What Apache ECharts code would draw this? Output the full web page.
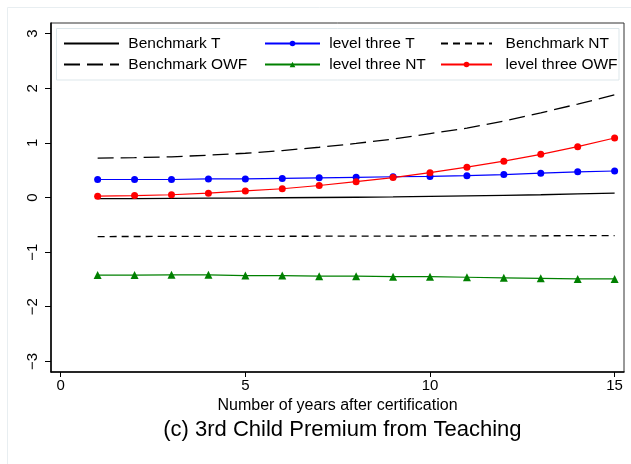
<!DOCTYPE html>
<html>
<head>
<meta charset="utf-8">
<script src="https://cdn.jsdelivr.net/npm/echarts@6/dist/echarts.min.js"></script>
<style>
  html, body { margin: 0; padding: 0; background: #ffffff; }
  #chart { width: 631px; height: 464px; }
</style>
</head>
<body>
<div id="chart"></div>
<script>
// ---- data ----
const years = [1, 2, 3, 4, 5, 6, 7, 8, 9, 10, 11, 12, 13, 14, 15];
const benchmarkT   = [-0.02, -0.02, -0.015, -0.01, -0.01, -0.005, 0, 0.005, 0.01, 0.02, 0.03, 0.04, 0.05, 0.065, 0.08];
const levelThreeT  = [0.33, 0.33, 0.33, 0.34, 0.34, 0.35, 0.36, 0.37, 0.38, 0.385, 0.40, 0.42, 0.445, 0.47, 0.485];
const benchmarkNT  = [-0.715, -0.714, -0.713, -0.712, -0.711, -0.71, -0.709, -0.708, -0.707, -0.705, -0.704, -0.702, -0.701, -0.699, -0.697];
const benchmarkOWF = [0.72, 0.73, 0.745, 0.775, 0.81, 0.86, 0.92, 0.99, 1.07, 1.17, 1.27, 1.40, 1.55, 1.71, 1.88];
const levelThreeNT = [-1.42, -1.42, -1.415, -1.415, -1.43, -1.43, -1.44, -1.44, -1.45, -1.45, -1.46, -1.47, -1.48, -1.49, -1.49];
const levelThreeOWF = [0.025, 0.035, 0.05, 0.08, 0.12, 0.16, 0.22, 0.29, 0.365, 0.455, 0.555, 0.665, 0.79, 0.93, 1.09];

const xTicks = [0, 5, 10, 15];
const yTicks = [-3, -2, -1, 0, 1, 2, 3];
const seriesNames = ['Benchmark T', 'level three T', 'Benchmark NT', 'Benchmark OWF', 'level three NT', 'level three OWF'];
const xAxisTitle = 'Number of years after certification';
const chartTitle = '(c) 3rd Child Premium from Teaching';

// ---- chart ----
const FONT = '"Liberation Sans", Arial, Helvetica, sans-serif';
const pair = arr => years.map((x, i) => [x, arr[i]]);

const chart = echarts.init(document.getElementById('chart'), null, { renderer: 'canvas' });

function legendAt(name, left, top, itemWidth, pad, noMarker) {
  const lg = {
    data: [name], left: left, top: top, orient: 'horizontal',
    itemWidth: itemWidth, itemHeight: 7, padding: 0, selectedMode: false,
    formatter: n => pad + n,
    textStyle: { fontSize: 15.5, fontFamily: FONT, color: '#000', lineHeight: 18 }
  };
  if (noMarker) lg.itemStyle = { opacity: 0, color: 'rgba(0,0,0,0)', borderWidth: 0 };
  return lg;
}

const option = {
  animation: false,
  backgroundColor: '#ffffff',
  title: {
    text: chartTitle, left: 337.4, top: 414, textAlign: 'center',
    textStyle: { fontSize: 22, fontWeight: 'normal', fontFamily: FONT, color: '#000' }
  },
  graphic: [
    { type: 'rect', shape: { x: 7.5, y: 7.5, width: 640, height: 470 }, style: { fill: 'none', stroke: '#e8eef1', lineWidth: 1 }, silent: true, z: -10 },
    { type: 'rect', shape: { x: 56.5, y: 28.5, width: 562.5, height: 51.5 }, style: { fill: 'none', stroke: '#dde7eb', lineWidth: 1 }, silent: true, z: -5 }
  ],
  legend: [
    legendAt(seriesNames[0], 63, 34.5, 55, ' ', true),
    legendAt(seriesNames[1], 264, 34.5, 55, ' ', false),
    legendAt(seriesNames[2], 440, 34.5, 51, '  ', true),
    legendAt(seriesNames[3], 63, 55.5, 55, ' ', true),
    legendAt(seriesNames[4], 264, 55.5, 55, ' ', false),
    legendAt(seriesNames[5], 440, 55.5, 51, '  ', false)
  ],
  grid: { left: 51, top: 23, width: 573, height: 349, show: true, borderColor: '#333', borderWidth: 1, containLabel: false },
  xAxis: {
    type: 'value', min: -0.263, max: 15.254,
    name: xAxisTitle, nameLocation: 'middle', nameGap: 26,
    nameTextStyle: { fontSize: 16, fontFamily: FONT, color: '#000' },
    axisLine: { show: true, onZero: false, lineStyle: { color: '#000', width: 1.5 } },
    axisTick: { show: true, length: 5, customValues: xTicks, lineStyle: { color: '#000', width: 1 } },
    axisLabel: { customValues: xTicks, margin: 6, fontSize: 15, fontFamily: FONT, color: '#000' },
    splitLine: { show: false }
  },
  yAxis: {
    type: 'value', min: -3.195, max: 3.195,
    axisLine: { show: true, onZero: false, lineStyle: { color: '#000', width: 1.5 } },
    axisTick: { show: true, length: 6, customValues: yTicks, lineStyle: { color: '#000', width: 1 } },
    axisLabel: { customValues: yTicks, rotate: 90, margin: 11, fontSize: 15, fontFamily: FONT, color: '#000',
      formatter: v => String(v).replace('-', '\u2212') },
    splitLine: { show: false }
  },
  series: [
    { name: seriesNames[0], type: 'line', data: pair(benchmarkT), symbol: 'none',
      lineStyle: { color: '#000', width: 1.3, type: 'solid' }, itemStyle: { color: '#000' } },
    { name: seriesNames[1], type: 'line', data: pair(levelThreeT), symbol: 'circle', symbolSize: 7,
      lineStyle: { color: '#0000ff', width: 1.2 }, itemStyle: { color: '#0000ff' } },
    { name: seriesNames[2], type: 'line', data: pair(benchmarkNT), symbol: 'none',
      lineStyle: { color: '#000', width: 1.3, type: [7, 5] }, itemStyle: { color: '#000' } },
    { name: seriesNames[3], type: 'line', data: pair(benchmarkOWF), symbol: 'none',
      lineStyle: { color: '#000', width: 1.3, type: [16, 7] }, itemStyle: { color: '#000' } },
    { name: seriesNames[4], type: 'line', data: pair(levelThreeNT), symbol: 'triangle', symbolSize: 8,
      lineStyle: { color: '#008000', width: 1.2 }, itemStyle: { color: '#008000' } },
    { name: seriesNames[5], type: 'line', data: pair(levelThreeOWF), symbol: 'circle', symbolSize: 7,
      lineStyle: { color: '#ff0000', width: 1.2 }, itemStyle: { color: '#ff0000' } }
  ]
};
chart.setOption(option);
</script>
</body>
</html>
